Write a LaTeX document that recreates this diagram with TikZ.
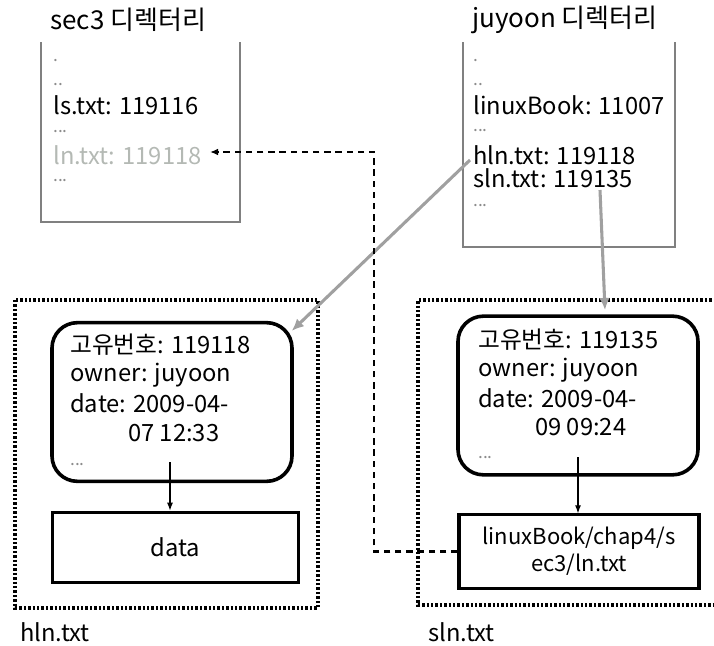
\documentclass[tikz,border=0pt]{standalone}
\usepackage{fontspec}
\setmainfont{Noto Sans CJK KR}
\usetikzlibrary{arrows.meta,calc}
\definecolor{boxgray}{RGB}{128,128,128}
\definecolor{arrgray}{RGB}{160,160,160}
\definecolor{txtgray}{RGB}{180,185,180}
\definecolor{dotgray}{RGB}{140,140,140}
\tikzset{
  txt/.style={anchor=west,inner sep=0pt,font=\fontsize{17.8}{21}\selectfont},
  title/.style={anchor=west,inner sep=0pt,font=\fontsize{19.5}{23}\selectfont},
  dots/.style={anchor=west,inner sep=0pt,text=dotgray,font=\fontsize{13}{15}\selectfont},
  dirbox/.style={draw=boxgray,line width=1pt},
  inode/.style={draw,line width=2.7pt,rounded corners=19pt,minimum width=180pt,minimum height=119pt,inner sep=0pt},
  datablk/.style={draw,line width=2.3pt,inner sep=0pt,align=center,font=\fontsize{17.8}{21}\selectfont},
  region/.style={line width=2.4pt,dash pattern=on 1.8pt off 1.5pt},
  grayarr/.style={draw=arrgray,line width=2.3pt,-{Latex[length=9pt,width=8pt]}},
  thinarr/.style={draw,line width=0.8pt,-{Latex[length=6pt,width=4.5pt]}},
  dasharr/.style={draw,line width=1.7pt,dash pattern=on 4.8pt off 3.6pt,-{Latex[length=6pt,width=5pt]}},
}
\begin{document}
\begin{tikzpicture}[x=0.75pt,y=-0.75pt]
\useasboundingbox (0,0) rectangle (714,646);

% titles
\node[title] (t1) at (50,20) {sec3 디렉터리};
\node[title] (t2) at (472,20) {juyoon 디렉터리};

% directory boxes (open top)
\draw[dirbox] (41,42) -- (41,222) -- (240,222) -- (240,42);
\draw[dirbox] (463,42) -- (463,247) -- (675,247) -- (675,42);

% sec3 entries
\node[dots] (a1) at (53,61) {.};
\node[dots] (a2) at (53,85) {..};
\node[txt] (a3) at (53,105) {ls.txt: 119116};
\node[dots] (a4) at (53,132) {...};
\node[txt,text=txtgray] (lnline) at (53,155) {ln.txt: 119118};
\node[dots] (a6) at (53,181) {...};

% juyoon entries
\node[dots] (b1) at (473,61) {.};
\node[dots] (b2) at (473,85) {..};
\node[txt] (b3) at (473,105) {linuxBook: 11007};
\node[dots] (b4) at (473,131) {...};
\node[txt] (hlnline) at (473,155) {hln.txt: 119118};
\node[txt] (slnline) at (473,178) {sln.txt: 119135};
\node[dots] (b7) at (473,206) {...};

% regions
\draw[region] (15,300) rectangle (318,608);
\draw[region] (716,300) -- (418,300) -- (418,605) -- (716,605);
\node[txt] (hlbl) at (20,632) {hln.txt};
\node[txt] (slbl) at (428,632) {sln.txt};

% inode boxes
\node[inode] (hino) at (172,402) {};
\node[inode] (sino) at (578,395.5) {};

\node[txt] (h1) at (70,345) {고유번호: 119118};
\node[txt] (h2) at (70,375) {owner: juyoon};
\node[txt] (h3) at (70,403) {date: 2009-04-};
\node[txt] (h4) at (128,433) {07 12:33};
\node[dots] (h5) at (70,465) {...};

\node[txt] (s1) at (478,340) {고유번호: 119135};
\node[txt] (s2) at (478,370) {owner: juyoon};
\node[txt] (s3) at (478,398) {date: 2009-04-};
\node[txt] (s4) at (535,427) {09 09:24};
\node[dots] (s5) at (478,458) {...};

% data blocks
\node[datablk,minimum width=185pt,minimum height=53pt] (data) at (175.5,547.5) {data};
\node[datablk,minimum width=180pt,minimum height=55pt,font=\fontsize{16.5}{20.5}\selectfont] (link) at (579,551.5) {linuxBook/chap4/s\\ec3/ln.txt};

% connectors
\coordinate (hstart) at (470,160);
\coordinate (sstart) at (600,190);
\coordinate (send) at (605,310);
\draw[grayarr] (hstart) -- ($(hino.north east)+(-2,10)$);
\draw[grayarr] (sstart) -- (send);

\coordinate (hdown) at (170,462);
\coordinate (sdown) at (578,457);
\draw[thinarr] (hdown) -- (hdown |- data.north);
\draw[thinarr] (sdown) -- (sdown |- link.north);

\coordinate (c1) at (374,551.5);
\coordinate (c2) at (374,152);
\coordinate (lnarrow) at (210,152);
\draw[dasharr] (link.west) -- (c1) -- (c2) -- (lnarrow);
\end{tikzpicture}
\end{document}
